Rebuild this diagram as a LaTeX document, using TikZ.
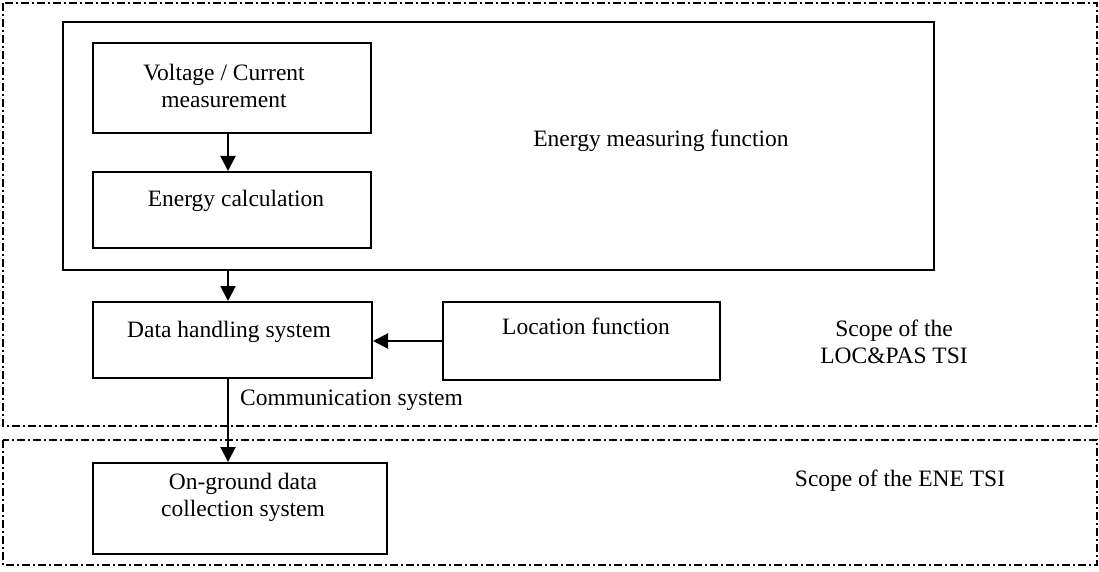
\documentclass[tikz,border=0pt]{standalone}
\usepackage{fontspec}
\setmainfont{Liberation Serif}
\usetikzlibrary{arrows.meta}
\begin{document}
\begin{tikzpicture}[x=1pt,y=-1pt,
  boxst/.style={draw,line width=2pt,inner sep=0pt},
  scopest/.style={draw,line width=2.2pt,dash pattern=on 8pt off 3pt on 2pt off 3pt},
  txt/.style={font=\fontsize{23.5}{27}\selectfont,align=center,inner sep=0pt},
  arr/.style={line width=2pt,-{Triangle[length=15pt,width=15pt]}}]
\useasboundingbox (0,0) rectangle (1099,572);
\draw[scopest] (3,3) rectangle (1097,426);
\draw[scopest] (3,440) rectangle (1097,565);
% boxes
\node[boxst,minimum width=871pt,minimum height=248pt] (emf) at (498,146) {};
\node[boxst,minimum width=278pt,minimum height=90pt] (vc) at (232,88) {};
\node[boxst,minimum width=278pt,minimum height=76pt] (ec) at (232,210) {};
\node[boxst,minimum width=279pt,minimum height=76pt] (dh) at (232.5,340) {};
\node[boxst,minimum width=277pt,minimum height=78pt] (loc) at (581.5,341) {};
\node[boxst,minimum width=294pt,minimum height=91pt] (og) at (240,508.5) {};
% texts
\node[txt] (vct) at (224,86) {Voltage / Current\\measurement};
\node[txt] (ect) at (236,201) {Energy calculation};
\node[txt] (emft) at (661,141) {Energy measuring function};
\node[txt] (dht) at (229,332) {Data handling system};
\node[txt] (loct) at (586,326) {Location function};
\node[txt,anchor=west] (comt) at (240,400) {Communication system};
\node[txt] (ogt) at (243,497) {On-ground data\\collection system};
\node[txt] (loc2) at (894,342) {Scope of the\\LOC\&PAS TSI};
\node[txt] (ene) at (900,481) {Scope of the ENE TSI};
% arrows
\draw[arr] (vc.south -| 228,0) -- (ec.north -| 228,0);
\draw[arr] (emf.south -| 228,0) -- (dh.north -| 228,0);
\draw[arr] (loc.west |- 0,341) -- (dh.east |- 0,341);
\draw[arr] (dh.south -| 228,0) -- (og.north -| 228,0);
\end{tikzpicture}
\end{document}
